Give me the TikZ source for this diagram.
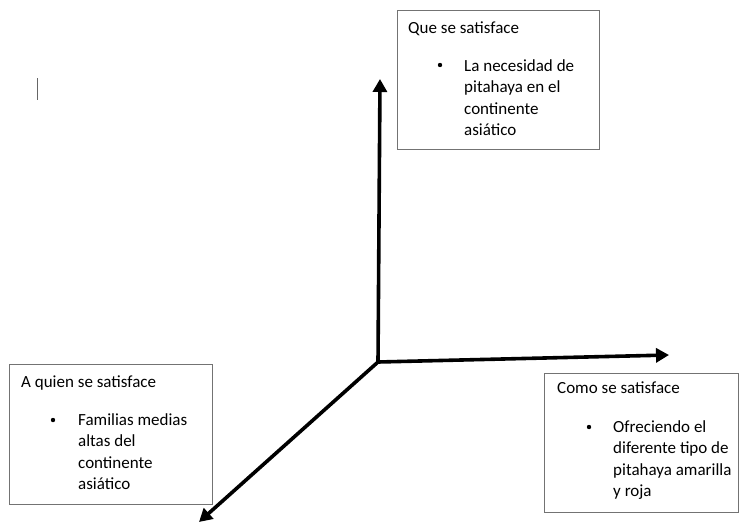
\documentclass[tikz,border=0pt]{standalone}
\usepackage{fontspec}
\setmainfont{Carlito}
\usetikzlibrary{arrows.meta}
% stacked lines whose reference point is the baseline of the first line
\newcommand{\linestack}[1]{\vtop{\halign{##\hfil\cr#1\crcr}}}
\begin{document}
\begin{tikzpicture}[x=1pt,y=-1pt,
  frame/.style={draw=black!55,line width=0.9pt,inner sep=0pt,anchor=north west},
  title/.style={anchor=base west,inner sep=0pt,font=\fontsize{17}{21.6}\selectfont},
  item/.style={anchor=base west,inner sep=0pt,font=\fontsize{17}{21.6}\selectfont},
  dot/.style={circle,fill=black,inner sep=0pt,minimum size=4.4pt},
  axis/.style={line width=3.6pt,-{Triangle[width=14pt,length=13pt]}}]
\useasboundingbox (0,0) rectangle (739,531);

% three boxes
\node[frame,minimum width=202pt,minimum height=139pt] (bq) at (397,10) {};
\node[frame,minimum width=203pt,minimum height=140pt] (bw) at (9,364) {};
\node[frame,minimum width=194pt,minimum height=139pt] (bc) at (544,373) {};

% top box
\node[title] (tq) at (408,33) {Que se satisface};
\node[dot] (dq) at (440,65) {};
\node[item] (iq) at (464,71) {\linestack{La necesidad de\cr pitahaya en el\cr continente\cr asiático}};

% left box
\node[title] (tw) at (21,387) {A quien se satisface};
\node[dot] (dw) at (53,420) {};
\node[item] (iw) at (78,425) {\linestack{Familias medias\cr altas del\cr continente\cr asiático}};

% right box
\node[title] (tc) at (557,393) {Como se satisface};
\node[dot] (dc) at (589,427) {};
\node[item] (ic) at (613,432) {\linestack{Ofreciendo el\cr diferente tipo de\cr pitahaya amarilla\cr y roja}};

% axes
\coordinate (o) at (378,362);
\coordinate (up) at (380,79);
\coordinate (rt) at (669,355);
\coordinate (dl) at (199,522);
\draw[axis] (o) -- (up);
\draw[axis] (o) -- (rt);
\draw[axis] (o) -- (dl);

% text cursor
\coordinate (c1) at (37,78);
\coordinate (c2) at (37,100);
\draw[black!60,line width=1pt] (c1) -- (c2);
\end{tikzpicture}
\end{document}
